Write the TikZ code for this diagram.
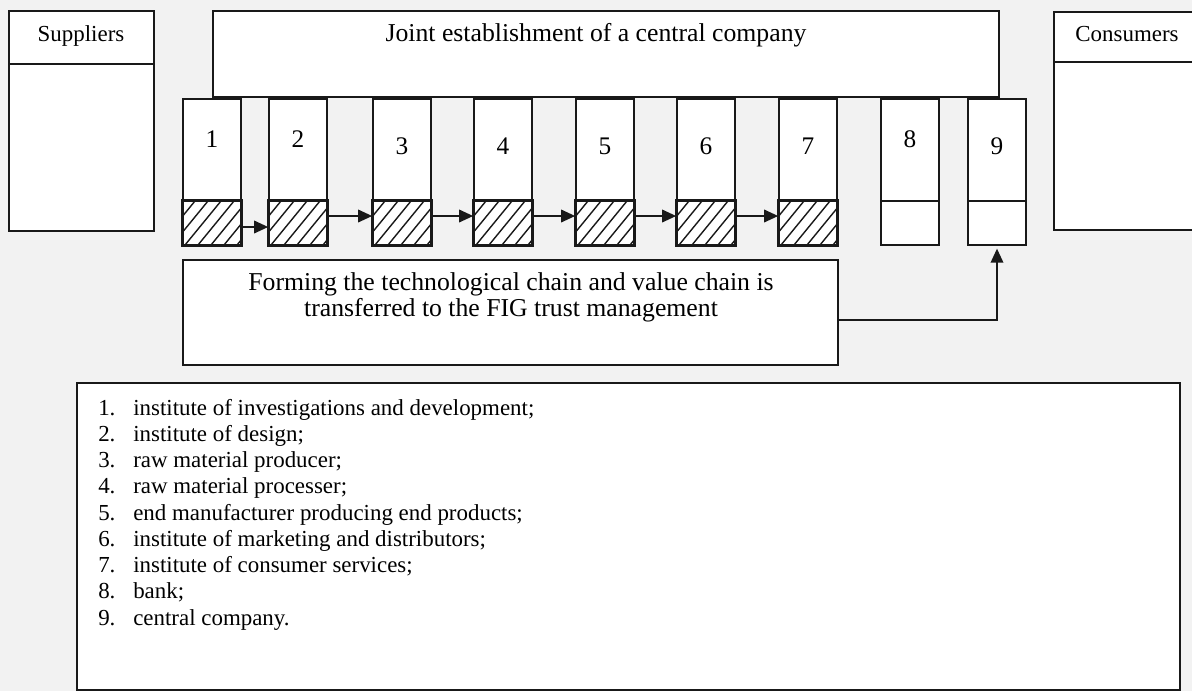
\documentclass[tikz,border=0pt]{standalone}
\usepackage{fontspec}
\setmainfont{Liberation Serif}
\usetikzlibrary{arrows.meta,fit}
\begin{document}
\begin{tikzpicture}[x=0.025cm,y=-0.025cm,
  box/.style={draw=black!90, fill=white, inner sep=0pt, line width=1.2pt},
  frame/.style={draw=black!90, line width=1.2pt},
  arr/.style={-{Triangle[length=10pt,width=9pt]}, line width=1.1pt, draw=black!90},
  hatchline/.style={line width=1.0pt, draw=black!90},
  lbl/.style={font=\fontsize{16.3}{19}\selectfont, inner sep=0pt},
  big/.style={font=\fontsize{18.3}{21}\selectfont, inner sep=0pt},
  num/.style={font=\fontsize{18}{20}\selectfont, inner sep=0pt}]
\clip (0,0) rectangle (1192,691);
\fill[gray!10] (0,0) rectangle (1192,691);

% Suppliers
\node[box, fit={(9,11) (154,64)}] (suph) {};
\node[box, fit={(9,64) (154,231)}] (supb) {};
\node[lbl, anchor=base] (suptxt) at (81,41) {Suppliers};

% Central company
\node[box, fit={(213,11) (999,97)}] (central) {};
\node[big, anchor=base] (centtxt) at (596,41) {Joint establishment of a central company};

% Consumers
\node[box, fit={(1054,12) (1205,62)}] (conh) {};
\node[box, fit={(1054,62) (1205,230)}] (conb) {};
\node[lbl, anchor=base] (contxt) at (1127,41) {Consumers};

% Boxes 1-9
\foreach \i/\l/\nb in {1/183/147, 2/269/147, 3/373/154, 4/474/154, 5/576/154, 6/677/154, 7/779/154, 8/881/147, 9/968/154}{
  \node[box, fit={(\l,99) (\l+58,201)}] (t\i) {};
  \node[box, fit={(\l,201) (\l+58,245)}] (b\i) {};
  \node[num, anchor=base] (n\i) at (\l+29,\nb) {\i};
}
% Hatching on boxes 1-7
\foreach \i/\l in {1/183, 2/269, 3/373, 4/474, 5/576, 6/677, 7/779}{
  \begin{scope}
    \clip (b\i.south west) rectangle (b\i.north east);
    \foreach \k in {-4,...,5}
      \draw[hatchline] (\l+\k*13+2,245) -- ++(36,-44);
  \end{scope}
  \draw[frame] (b\i.south west) rectangle (b\i.north east);
}

% Chain arrows
\draw[arr] ([yshift=-0.1cm]b1.east) -- ([yshift=-0.1cm]b2.west);
\foreach \a/\b in {2/3, 3/4, 4/5, 5/6, 6/7}
  \draw[arr] ([yshift=0.175cm]b\a.east) -- ([yshift=0.175cm]b\b.west);

% Trust management box
\node[box, fit={(183,260) (838,365)}] (trust) {};
\node[big, anchor=base] (trust1) at (511,290) {Forming the technological chain and value chain is};
\node[big, anchor=base] (trust2) at (511,316) {transferred to the FIG trust management};
\draw[arr, shorten >=2pt] ([yshift=-0.19cm]trust.east) -| (b9.south);

% Legend
\node[box, fit={(77,383) (1180,690)}] (legend) {};
\foreach \k/\t in {0/{institute of investigations and development;},
                   1/{institute of design;},
                   2/{raw material producer;},
                   3/{raw material processer;},
                   4/{end manufacturer producing end products;},
                   5/{institute of marketing and distributors;},
                   6/{institute of consumer services;},
                   7/{bank;},
                   8/{central company.}}{
  \pgfmathtruncatemacro\nn{\k+1}
  \node[lbl, anchor=base west] (ln\nn) at (98,415+\k*26.25) {\nn.};
  \node[lbl, anchor=base west] (lt\nn) at (133,415+\k*26.25) {\t};
}
\end{tikzpicture}
\end{document}
